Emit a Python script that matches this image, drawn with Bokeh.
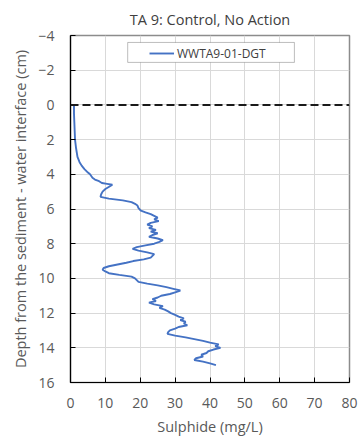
from bokeh.plotting import figure
from bokeh.models import Range1d, FixedTicker, Legend, LegendItem, Span, BoxAnnotation
from bokeh.embed import file_html
from bokeh.resources import INLINE

# Sulphide profile (mg/L) against depth below the sediment-water interface (cm)
depth = [0.0, 0.5, 1.0, 1.5, 2.0, 2.5, 3.0, 3.3, 3.5, 3.7, 3.9, 4.0, 4.2, 4.3, 4.4, 4.5,
         4.55, 4.6, 4.7, 4.85, 5.0, 5.15, 5.3, 5.4, 5.5, 5.6, 5.7, 5.8, 5.95, 6.1, 6.2,
         6.3, 6.4, 6.5, 6.6, 6.7, 6.8, 6.9, 7.0, 7.1, 7.2, 7.3, 7.4, 7.5, 7.6, 7.7, 7.8,
         7.9, 8.0, 8.1, 8.2, 8.3, 8.4, 8.5, 8.6, 8.7, 8.8, 8.9, 9.0, 9.1, 9.2, 9.3, 9.4,
         9.5, 9.6, 9.7, 9.8, 9.9, 10.0, 10.1, 10.2, 10.3, 10.4, 10.5, 10.6, 10.7, 10.8,
         10.9, 11.0, 11.1, 11.2, 11.3, 11.4, 11.5, 11.6, 11.7, 11.8, 11.9, 12.0, 12.1,
         12.2, 12.3, 12.4, 12.5, 12.6, 12.7, 12.8, 12.9, 13.0, 13.1, 13.2, 13.3, 13.4,
         13.5, 13.6, 13.7, 13.8, 13.9, 14.0, 14.1, 14.2, 14.3, 14.4, 14.5, 14.6, 14.7,
         14.8, 14.9, 15.0]
sulphide = [1.0, 1.0, 1.1, 1.2, 1.3, 1.6, 2.0, 2.6, 3.2, 4.0, 5.0, 5.6, 6.3, 7.0, 8.2, 9.0,
            10.5, 12.0, 11.2, 10.0, 9.2, 8.8, 8.6, 11.0, 15.0, 17.5, 18.5, 19.2, 19.5, 20.2, 21.5,
            23.0, 24.0, 25.0, 24.0, 25.3, 23.0, 22.0, 23.5, 22.5, 24.5, 23.0, 25.0, 23.5, 22.5, 25.0, 26.5,
            25.5, 24.0, 21.5, 19.0, 17.8, 19.5, 22.0, 24.0, 23.5, 23.0, 21.0, 18.0, 16.0, 13.5, 11.0, 9.5,
            9.2, 10.0, 11.0, 14.0, 17.5, 18.5, 19.0, 19.5, 22.0, 25.0, 27.5, 29.5, 31.5, 30.0,
            28.5, 26.0, 25.0, 23.5, 24.5, 22.5, 24.0, 26.5, 25.5, 27.0, 28.0, 28.8, 30.0,
            31.0, 32.5, 31.5, 33.0, 32.5, 33.5, 31.0, 30.0, 28.5, 28.0, 27.8, 30.0, 33.0,
            35.5, 38.0, 40.0, 42.5, 41.5, 43.0, 41.0, 39.5, 39.0, 37.5, 38.0, 36.0, 35.5,
            38.0, 40.0, 41.7]

series_name = "WWTA9-01-DGT"
x_ticks = [0, 10, 20, 30, 40, 50, 60, 70, 80]
y_ticks = [-4, -2, 0, 2, 4, 6, 8, 10, 12, 14, 16]

FONT = "Open Sans"
TEXT = "#595959"

p = figure(width=359, height=441, output_backend="svg", toolbar_location=None,
           x_range=Range1d(0, 80), y_range=Range1d(16, -4),
           title="TA 9: Control, No Action")
p.min_border_left = 70
p.min_border_right = 10
p.min_border_top = 34
p.min_border_bottom = 59

p.title.align = "center"
p.title.text_font = FONT
p.title.text_font_size = "14.5px"
p.title.text_font_style = "normal"
p.title.text_color = "#404040"
p.title.standoff = 14

p.outline_line_color = "#8c8c8c"
p.outline_line_width = 1.5

for ax in (p.xaxis[0], p.yaxis[0]):
    ax.axis_line_color = "black"
    ax.axis_line_width = 1.2
    ax.major_tick_line_color = "black"
    ax.major_tick_in = 5
    ax.major_tick_out = 0
    ax.minor_tick_line_color = None
    ax.major_label_text_font = FONT
    ax.major_label_text_font_size = "14px"
    ax.major_label_text_color = TEXT
    ax.axis_label_text_font = FONT
    ax.axis_label_text_font_size = "14.5px"
    ax.axis_label_text_font_style = "normal"
    ax.axis_label_text_color = TEXT

p.xaxis.ticker = FixedTicker(ticks=x_ticks)
p.yaxis.ticker = FixedTicker(ticks=y_ticks)
p.xaxis.axis_label = "Sulphide (mg/L)"
p.yaxis.axis_label = "Depth from the sediment - water interface (cm)"
p.xaxis.major_label_standoff = 15
p.yaxis.major_label_standoff = 16
p.xaxis.axis_label_standoff = 6
p.yaxis.axis_label_standoff = 5

p.xgrid.ticker = FixedTicker(ticks=x_ticks)
p.ygrid.ticker = FixedTicker(ticks=y_ticks)
p.grid.grid_line_color = "#d9d9d9"
p.grid.grid_line_width = 1

# sediment-water interface
p.add_layout(Span(location=0, dimension="width", line_color="#1a1a1a",
                  line_width=2, line_dash="8 4"))

r = p.line(sulphide, depth, line_color="#4472C4", line_width=1.9)

# legend frame, wider than the single entry it holds
p.add_layout(BoxAnnotation(left=16.4, right=64.2, top=-3.6, bottom=-2.45,
                           fill_color="white", fill_alpha=1,
                           line_color="#262626", line_width=1))

legend = Legend(items=[LegendItem(label=series_name, renderers=[r])],
                location=(79, 319), orientation="horizontal")
legend.label_text_font = FONT
legend.label_text_font_size = "12px"
legend.label_text_color = "#404040"
legend.border_line_color = None
legend.background_fill_alpha = 0
legend.glyph_width = 25
legend.padding = 2
legend.margin = 0
legend.label_standoff = 3
p.add_layout(legend, "center")

open("out.html", "w").write(file_html(p, INLINE))
